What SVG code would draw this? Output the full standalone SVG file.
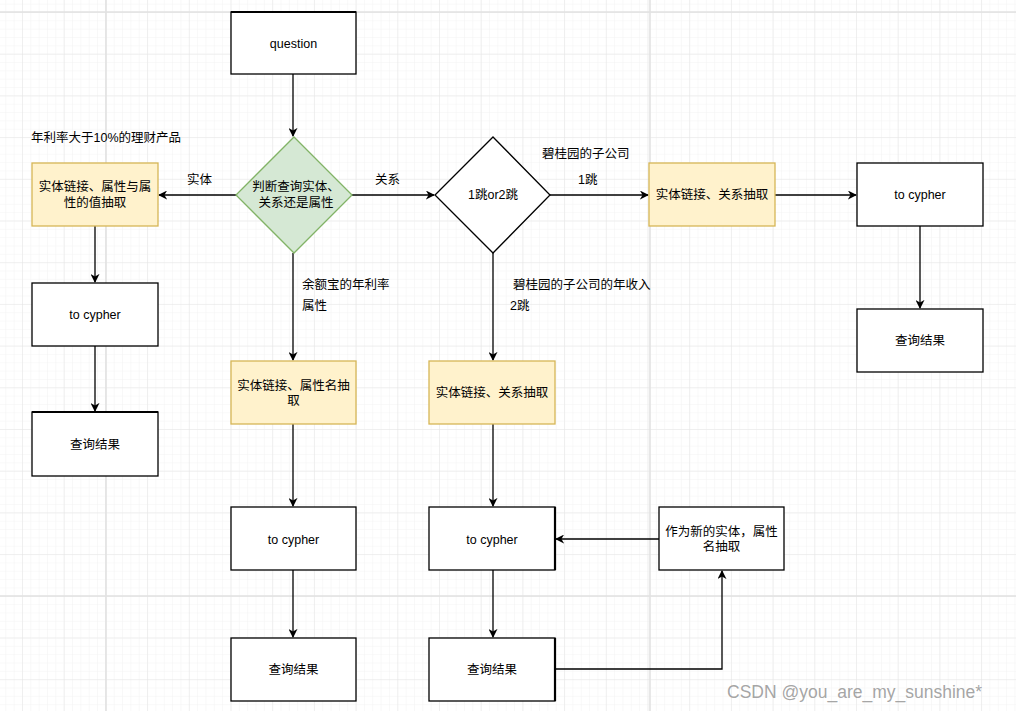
<svg xmlns="http://www.w3.org/2000/svg" width="1016" height="711" viewBox="0 0 1016 711">
<defs>
  <pattern id="minor" x="22" y="12" width="8.34" height="8.34" patternUnits="userSpaceOnUse">
    <path d="M0 0H8.34M0 0V8.34" fill="none" stroke="#f3f3f3" stroke-width="1"/>
  </pattern>
  <pattern id="major" x="22" y="12" width="41.7" height="41.7" patternUnits="userSpaceOnUse">
    <path d="M0 0H41.7M0 0V41.7" fill="none" stroke="#e5e5e5" stroke-width="1"/>
  </pattern>
  <marker id="arr" viewBox="0 0 10 10" refX="9" refY="5" markerWidth="9" markerHeight="9" markerUnits="userSpaceOnUse" orient="auto">
    <path d="M0 0L10 5L0 10L3 5Z" fill="#000"/>
  </marker>
  <style>
    .box{fill:#fff;stroke:#000;stroke-width:1.3}
    .yel{fill:#fff2cc;stroke:#d6b656;stroke-width:1.3}
    .grn{fill:#d5e8d4;stroke:#82b366;stroke-width:1.3}
    .t{font-family:"Liberation Sans","Noto Sans CJK SC",sans-serif;font-size:12.5px;fill:#000;text-anchor:middle}
    .l{font-family:"Liberation Sans","Noto Sans CJK SC",sans-serif;font-size:12.5px;fill:#000}
    .e{fill:none;stroke:#000;stroke-width:1.3;marker-end:url(#arr)}
  </style>
</defs>
<rect width="1016" height="711" fill="#fff"/>
<rect width="1016" height="711" fill="url(#minor)"/>
<rect width="1016" height="711" fill="url(#major)"/>
<g stroke="#e2e2e2" stroke-width="1.6">
  <line x1="106" y1="0" x2="106" y2="711"/>
  <line x1="650" y1="0" x2="650" y2="711"/>
  <line x1="0" y1="12" x2="1016" y2="12"/>
  <line x1="0" y1="596" x2="1016" y2="596"/>
</g>

<g id="connectors">
  <path class="e" d="M293 74V136"/>
  <path class="e" d="M236 195H159"/>
  <path class="e" d="M352 195H434"/>
  <path class="e" d="M293 253V360"/>
  <path class="e" d="M550 195H648"/>
  <path class="e" d="M493 253V360"/>
  <path class="e" d="M775 195H856"/>
  <path class="e" d="M920 226V308"/>
  <path class="e" d="M95 226V282"/>
  <path class="e" d="M95 346V411"/>
  <path class="e" d="M293 424V506"/>
  <path class="e" d="M293 570V637"/>
  <path class="e" d="M493 424V506"/>
  <path class="e" d="M493 570V637"/>
  <path class="e" d="M555 669H722V571"/>
  <path class="e" d="M659 539H556"/>
  <text class="l" x="187" y="184">实体</text>
  <text class="l" x="375" y="184">关系</text>
  <text class="l" x="542" y="158">碧桂园的子公司</text>
  <text class="l" x="578" y="184">1跳</text>
  <text class="l" x="302" y="289">余额宝的年利率</text>
  <text class="l" x="302" y="310">属性</text>
  <text class="l" x="513" y="289">碧桂园的子公司的年收入</text>
  <text class="l" x="510" y="310">2跳</text>
</g>

<g id="note"><text class="l" x="31" y="142">年利率大于10%的理财产品</text></g>

<g id="question"><rect class="box" x="231" y="12" width="125" height="62"/><line x1="231" y1="12" x2="356" y2="12" stroke="#000" stroke-width="2.2"/><text class="t" x="293.5" y="48">question</text></g>

<g id="decide"><path class="grn" d="M294 137L352 195L294 253L236 195Z"/><text class="t" x="296" y="191">判断查询实体、</text><text class="t" x="296" y="207">关系还是属性</text></g>

<g id="hops"><path class="box" d="M493 137L550 195L493 253L435 195Z"/><text class="t" x="493" y="199">1跳or2跳</text></g>

<g id="entAttrVal"><rect class="yel" x="32" y="163" width="126" height="63"/><text class="t" x="95" y="191">实体链接、属性与属</text><text class="t" x="95" y="207">性的值抽取</text></g>
<g id="cypherL"><rect class="box" x="32" y="283" width="126" height="63"/><text class="t" x="95" y="319">to cypher</text></g>
<g id="resultL"><rect class="box" x="32" y="412" width="126" height="64"/><line x1="32" y1="412" x2="158" y2="412" stroke="#000" stroke-width="2.2"/><text class="t" x="95" y="449">查询结果</text></g>

<g id="entRel1"><rect class="yel" x="649" y="163" width="126" height="63"/><text class="t" x="712" y="199">实体链接、关系抽取</text></g>
<g id="cypherR"><rect class="box" x="857" y="163" width="126" height="63"/><text class="t" x="920" y="199">to cypher</text></g>
<g id="resultR"><rect class="box" x="857" y="309" width="126" height="63"/><text class="t" x="920" y="345">查询结果</text></g>

<g id="entAttrName"><rect class="yel" x="231" y="361" width="125" height="63"/><text class="t" x="293.5" y="390">实体链接、属性名抽</text><text class="t" x="293.5" y="405">取</text></g>
<g id="cypherM"><rect class="box" x="231" y="507" width="125" height="63"/><text class="t" x="293.5" y="544">to cypher</text></g>
<g id="resultM"><rect class="box" x="231" y="638" width="125" height="63"/><text class="t" x="293.5" y="674">查询结果</text></g>

<g id="entRel2"><rect class="yel" x="429" y="361" width="126" height="63"/><text class="t" x="492" y="397">实体链接、关系抽取</text></g>
<g id="cypher2"><rect class="box" x="429" y="507" width="126" height="63"/><line x1="555" y1="507" x2="555" y2="570" stroke="#000" stroke-width="2.2"/><text class="t" x="492" y="544">to cypher</text></g>
<g id="result2"><rect class="box" x="429" y="638" width="126" height="63"/><line x1="555" y1="638" x2="555" y2="701" stroke="#000" stroke-width="2.2"/><text class="t" x="492" y="674">查询结果</text></g>

<g id="newEntity"><rect class="box" x="659" y="507" width="125" height="63"/><text class="t" x="721.5" y="536">作为新的实体，属性</text><text class="t" x="721.5" y="551">名抽取</text></g>

<text x="727" y="698" font-family="Liberation Sans, sans-serif" font-size="17.5" fill="#9a9a9a" fill-opacity="0.9">CSDN @you_are_my_sunshine*</text>
</svg>
